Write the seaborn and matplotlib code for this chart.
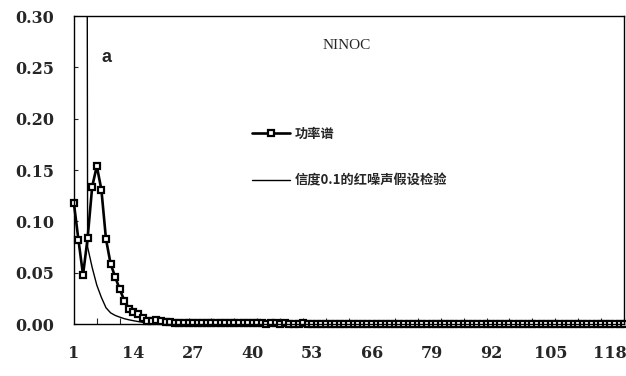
import numpy as np
import pandas as pd
import matplotlib
matplotlib.use("Agg")
import matplotlib.pyplot as plt
import seaborn as sns

# Spectrum of the NINOC index: power spectrum vs. red-noise test curve (confidence 0.1)
power = [
    0.118, 0.082, 0.048, 0.084, 0.134, 0.154, 0.131, 0.083, 0.059, 0.046,
    0.034, 0.023, 0.015, 0.012, 0.010, 0.006, 0.003, 0.0035, 0.004, 0.003,
    0.0022, 0.0018, 0.0015,
    0.0012, 0.0010, 0.0011, 0.0009, 0.0010, 0.0008, 0.0009, 0.0010, 0.0008, 0.0007,
    0.0008, 0.0009, 0.0007, 0.0006, 0.0008, 0.0007, 0.0006, 0.0007, 0.0006, 0.0005,
    0.0006, 0.0007, 0.0005, 0.0006, 0.0005, 0.0004, 0.0005, 0.0006, 0.0004, 0.0005,
    0.0004, 0.0005, 0.0004, 0.0003, 0.0004, 0.0005, 0.0003, 0.0004, 0.0003, 0.0004,
    0.0003, 0.0004, 0.0003, 0.0002, 0.0003, 0.0004, 0.0003, 0.0002, 0.0003, 0.0002,
    0.0003, 0.0002, 0.0003, 0.0002, 0.0002, 0.0003, 0.0002, 0.0003, 0.0002, 0.0002,
    0.0002, 0.0003, 0.0002, 0.0002, 0.0001, 0.0002, 0.0002, 0.0003, 0.0002, 0.0001,
    0.0002, 0.0001, 0.0002, 0.0002, 0.0001, 0.0002, 0.0001, 0.0002, 0.0001, 0.0002,
    0.0001, 0.0002, 0.0001, 0.0001, 0.0002, 0.0001, 0.0001, 0.0002, 0.0001, 0.0001,
    0.0001, 0.0002, 0.0001, 0.0001, 0.0001, 0.0002, 0.0001, 0.0001,
]

red_noise = [
    5.0, 4.0, 3.0, 0.075, 0.055, 0.038, 0.026, 0.016, 0.011, 0.0085,
    0.0068, 0.0053, 0.0042, 0.0033, 0.0025, 0.0018, 0.0013, 0.0010, 0.0008, 0.0007,
    0.00060, 0.00055, 0.00050, 0.00047, 0.00044, 0.00041, 0.00039, 0.00037, 0.00035, 0.00033,
    0.00032, 0.00031, 0.00030, 0.00029, 0.00028, 0.00027, 0.00026, 0.00025, 0.00025, 0.00024,
    0.00024, 0.00023, 0.00023, 0.00022, 0.00022, 0.00021, 0.00021, 0.00021, 0.00020, 0.00020,
    0.00020, 0.00019, 0.00019, 0.00019, 0.00019, 0.00018, 0.00018, 0.00018, 0.00018, 0.00018,
    0.00017, 0.00017, 0.00017, 0.00017, 0.00017, 0.00017, 0.00017, 0.00017, 0.00017, 0.00017,
    0.00017, 0.00017, 0.00016, 0.00016, 0.00016, 0.00016, 0.00016, 0.00016, 0.00016, 0.00016,
    0.00016, 0.00016, 0.00016, 0.00016, 0.00016, 0.00016, 0.00016, 0.00016, 0.00016, 0.00016,
    0.00016, 0.00016, 0.00015, 0.00015, 0.00015, 0.00015, 0.00015, 0.00015, 0.00015, 0.00015,
    0.00015, 0.00015, 0.00015, 0.00015, 0.00015, 0.00015, 0.00015, 0.00015, 0.00015, 0.00015,
    0.00015, 0.00015, 0.00015, 0.00015, 0.00015, 0.00015, 0.00015, 0.00015, 0.00015, 0.00015,
    0.00015,
]

x_tick_labels = [1, 14, 27, 40, 53, 66, 79, 92, 105, 118]
y_ticks = [0.00, 0.05, 0.10, 0.15, 0.20, 0.25, 0.30]

label_power = "功率谱"
label_red = "信度0.1的红噪声假设检验"
title_text = "NINOC"
panel_text = "a"

sns.set_style("ticks")
plt.rcParams["font.family"] = ["DejaVu Serif", "Noto Sans CJK SC", "DejaVu Sans"]

k = np.arange(1, len(power) + 1)
df = pd.DataFrame({"k": k, "power": power, "red": red_noise})

fig = plt.figure(figsize=(6.26, 3.76), dpi=100)
ax = fig.add_axes([0.118, 0.138, 0.879, 0.819])

sns.lineplot(data=df, x="k", y="red", ax=ax, color="black", linewidth=1.0,
             label=label_red)
sns.lineplot(data=df, x="k", y="power", ax=ax, color="black", linewidth=1.9,
             marker="s", markersize=4.2, markerfacecolor="white",
             markeredgecolor="black", markeredgewidth=1.6, clip_on=False,
             label=label_power)

ax.set_xlim(1, len(power))
ax.set_ylim(0, 0.30)
ax.set_xlabel("")
ax.set_ylabel("")

ax.set_xticks(x_tick_labels)
ax.set_xticklabels([str(v) for v in x_tick_labels])
ax.set_xticks(np.arange(6, len(power) + 1, 5), minor=True)
ax.set_yticks(y_ticks)
ax.set_yticklabels([f"{v:.2f}" for v in y_ticks])

ax.tick_params(axis="x", which="major", length=0, pad=15, labelsize=11.5)
ax.tick_params(axis="x", which="minor", direction="in", length=4, width=0.8)
ax.tick_params(axis="y", which="major", direction="in", length=3, width=0.8,
               pad=14, labelsize=11.5)
for lab in ax.get_xticklabels() + ax.get_yticklabels():
    lab.set_fontweight("bold")
    lab.set_family("DejaVu Serif")

for side in ["top", "right", "left", "bottom"]:
    ax.spines[side].set_visible(True)
    ax.spines[side].set_color("black")
    ax.spines[side].set_linewidth(1.0)

ax.text(0.495, 0.905, title_text, transform=ax.transAxes, ha="center",
        va="center", fontsize=11, family="Liberation Serif")
ax.text(0.06, 0.865, panel_text, transform=ax.transAxes, ha="center",
        va="center", fontsize=13, fontweight="bold", family="Liberation Sans")

handles, labels = ax.get_legend_handles_labels()
order = [labels.index(label_power), labels.index(label_red)]
leg = ax.legend([handles[i] for i in order], [labels[i] for i in order],
                loc="upper left", bbox_to_anchor=(0.311, 0.662), frameon=False,
                handlelength=2.9, handletextpad=0.38, labelspacing=2.45,
                borderpad=0, prop={"family": "Noto Sans CJK SC", "size": 9.5,
                                   "weight": "bold"})
leg.legend_handles[1].set_markersize(3.5)
leg.legend_handles[1].set_markeredgewidth(1.4)

fig.savefig("out.png", dpi=100)
